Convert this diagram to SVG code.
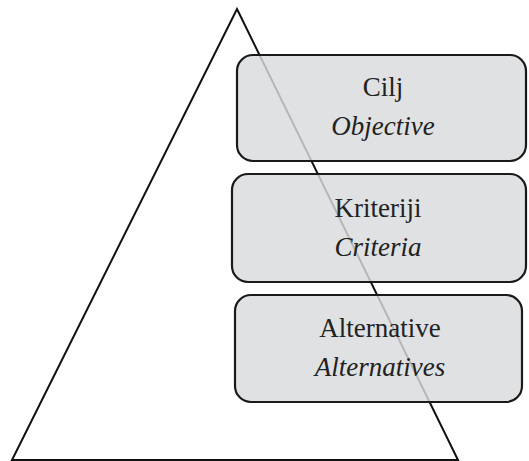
<svg xmlns="http://www.w3.org/2000/svg" width="529" height="461" viewBox="0 0 529 461">
<style>
.box{fill:#d8dadd;fill-opacity:0.82;stroke:#1a1a1a;stroke-width:2.2}
</style>
<rect width="529" height="461" fill="#fff"/>
<g id="connectors">
<polygon points="237,9 458,460 12,460" fill="none" stroke="#111" stroke-width="2"/>
</g>
<g font-family="Liberation Serif, Times New Roman, serif" font-size="27" fill="#222" text-anchor="middle">
<g id="objective">
<rect class="box" x="237" y="55" width="289" height="106" rx="16"/>
<text x="383" y="96">Cilj</text>
<text x="383" y="135" font-style="italic">Objective</text>
</g>
<g id="criteria">
<rect class="box" x="232" y="174" width="294" height="108" rx="16"/>
<text x="378" y="217">Kriteriji</text>
<text x="378" y="256" font-style="italic">Criteria</text>
</g>
<g id="alternatives">
<rect class="box" x="235" y="295" width="287" height="107" rx="16"/>
<text x="380" y="337">Alternative</text>
<text x="380" y="376" font-style="italic">Alternatives</text>
</g>
</g>
</svg>
